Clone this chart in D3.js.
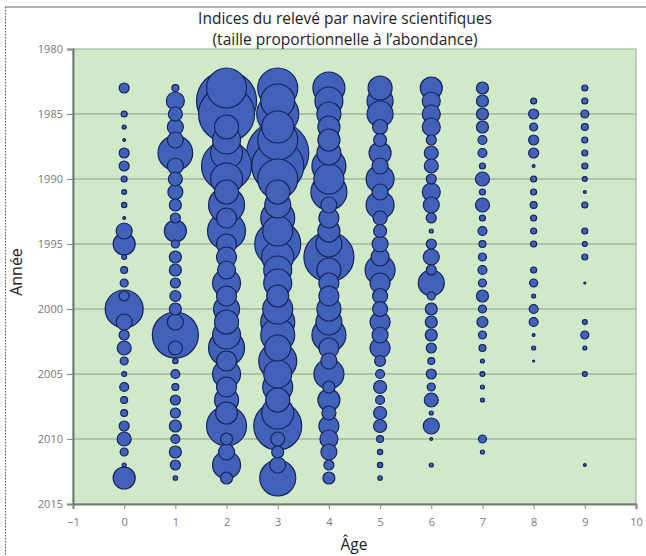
<!DOCTYPE html>
<html>
<head>
<meta charset="utf-8">
<script src="https://cdn.jsdelivr.net/npm/d3@7"></script>
<style>
  body { margin: 0; background: #fff; }
  svg text { font-family: "Open Sans", "Noto Sans", sans-serif; }
</style>
</head>
<body>
<script>
// years of the survey, one row per year
var years = d3.range(1983, 2014);
var ages = [0, 1, 2, 3, 4, 5, 6, 7, 8, 9];

// abundance index per age (1983 ... 2013)
var age0 = [25, 0, 9, 4, 2, 25, 25, 9, 6, 7, 2, 64, 121, 6, 12, 16, 25, 361, 64, 25, 49, 16, 6, 20, 12, 12, 25, 49, 16, 4, 121];
var age1 = [12, 81, 49, 64, 64, 300, 64, 49, 56, 36, 25, 121, 16, 36, 36, 25, 30, 36, 64, 530, 49, 7, 20, 12, 25, 25, 36, 20, 36, 25, 5];
var age2 = [400, 900, 784, 144, 196, 256, 625, 256, 144, 324, 100, 361, 100, 100, 81, 196, 100, 169, 144, 196, 324, 100, 196, 100, 144, 121, 400, 36, 64, 196, 36];
var age3 = [400, 289, 441, 256, 400, 961, 676, 400, 144, 169, 289, 225, 529, 256, 196, 196, 121, 225, 289, 289, 169, 361, 196, 225, 144, 256, 576, 49, 36, 64, 324];
var age4 = [256, 196, 144, 121, 121, 144, 289, 225, 324, 64, 100, 121, 169, 625, 144, 100, 100, 144, 169, 289, 100, 64, 225, 36, 121, 49, 100, 81, 64, 25, 36];
var age5 = [144, 169, 169, 56, 42, 121, 64, 196, 64, 196, 49, 42, 64, 81, 225, 100, 56, 56, 100, 64, 100, 30, 20, 42, 20, 42, 42, 12, 7, 7, 5];
var age6 = [121, 81, 81, 81, 25, 49, 49, 25, 81, 64, 25, 4, 25, 64, 25, 169, 16, 36, 36, 36, 25, 12, 25, 16, 49, 4, 64, 2, 0, 4, 0];
var age7 = [36, 36, 36, 36, 20, 20, 9, 49, 9, 49, 9, 20, 12, 16, 20, 16, 36, 16, 30, 16, 12, 4, 6, 4, 4, 0, 0, 16, 4, 0, 0];
var age8 = [0, 9, 25, 16, 25, 25, 2, 9, 9, 12, 9, 9, 9, 0, 9, 16, 4, 20, 20, 2, 4, 1, 0, 0, 0, 0, 0, 0, 0, 0, 0];
var age9 = [9, 9, 16, 12, 9, 9, 9, 6, 2, 9, 0, 9, 6, 9, 0, 1, 0, 0, 6, 16, 4, 0, 6, 0, 0, 0, 0, 0, 0, 2, 0];
var series = [age0, age1, age2, age3, age4, age5, age6, age7, age8, age9];

var xTicks = d3.range(-1, 11);
var yTicks = [1980, 1985, 1990, 1995, 2000, 2005, 2010, 2015];

var width = 646, height = 556;
var margin = {top: 49, right: 10, bottom: 52, left: 73};

var svg = d3.select("body").append("svg")
  .attr("width", width)
  .attr("height", height);

// dotted frame around the figure
svg.append("line")
  .attr("x1", 5).attr("x2", width).attr("y1", 7).attr("y2", 7)
  .attr("stroke", "#999").attr("stroke-width", 1.5);
svg.append("line")
  .attr("x1", 5.5).attr("x2", 5.5).attr("y1", 7).attr("y2", height)
  .attr("stroke", "#555").attr("stroke-dasharray", "1.5,1.5");

var x = d3.scaleLinear().domain([-1, 10]).range([margin.left, width - margin.right]);
var y = d3.scaleLinear().domain([1980, 2015]).range([margin.top, height - margin.bottom]);
var r = d3.scaleSqrt().domain([0, 961]).range([0, 31]);

// plot background
svg.append("rect")
  .attr("x", x(-1)).attr("y", y(1980))
  .attr("width", x(10) - x(-1)).attr("height", y(2015) - y(1980))
  .attr("fill", "#d0e9c9")
  .attr("stroke", "#9aa39a");

// horizontal grid
svg.append("g")
  .selectAll("line")
  .data(yTicks.slice(1, -1))
  .enter().append("line")
  .attr("x1", x(-1)).attr("x2", x(10))
  .attr("y1", function(d) { return y(d); })
  .attr("y2", function(d) { return y(d); })
  .attr("stroke", "#8f9c8c")
  .attr("stroke-width", 1.2);

// flatten to points, big bubbles drawn first so small ones stay visible
var points = [];
series.forEach(function(vals, i) {
  vals.forEach(function(v, j) {
    if (v > 0) points.push({age: ages[i], year: years[j], value: v});
  });
});
points.sort(function(a, b) { return b.value - a.value; });

svg.append("g")
  .selectAll("circle")
  .data(points)
  .enter().append("circle")
  .attr("cx", function(d) { return x(d.age); })
  .attr("cy", function(d) { return y(d.year); })
  .attr("r", function(d) { return r(d.value); })
  .attr("fill", "#4262b9")
  .attr("stroke", "#15235e")
  .attr("stroke-width", 1.2);

// axes
var xAxis = svg.append("g")
  .attr("transform", "translate(0," + y(2015) + ")")
  .call(d3.axisBottom(x).tickValues(xTicks).tickSize(5).tickPadding(9).tickFormat(d3.format("d")));
var yAxis = svg.append("g")
  .attr("transform", "translate(" + x(-1) + ",0)")
  .call(d3.axisLeft(y).tickValues(yTicks).tickSize(6).tickPadding(4).tickFormat(d3.format("d")));

[xAxis, yAxis].forEach(function(a) {
  a.select(".domain").attr("stroke", "#6f7d6c").attr("stroke-width", 2);
  a.selectAll(".tick line").attr("stroke", "#888");
  a.selectAll(".tick text").attr("fill", "#777").style("font-size", "11px");
});

// title
svg.append("text")
  .attr("x", 345).attr("y", 24)
  .attr("text-anchor", "middle")
  .attr("fill", "#222")
  .style("font-size", "15.5px")
  .text("Indices du relevé par navire scientifiques");
svg.append("text")
  .attr("x", 345).attr("y", 45)
  .attr("text-anchor", "middle")
  .attr("fill", "#222")
  .style("font-size", "15.5px")
  .text("(taille proportionnelle à l’abondance)");

// axis titles
svg.append("text")
  .attr("x", 354).attr("y", 550)
  .attr("text-anchor", "middle")
  .attr("fill", "#222")
  .style("font-size", "15.5px")
  .text("Âge");
svg.append("text")
  .attr("transform", "translate(22,272) rotate(-90)")
  .attr("text-anchor", "middle")
  .attr("fill", "#222")
  .style("font-size", "16px")
  .text("Année");
</script>
</body>
</html>
